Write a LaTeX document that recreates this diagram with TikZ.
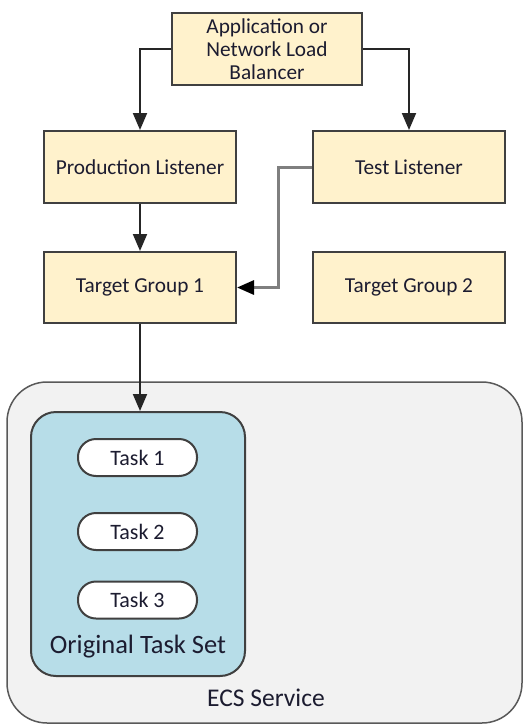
\documentclass[tikz,border=0pt]{standalone}
\usepackage{fontspec}
\setmainfont{Carlito}
\usetikzlibrary{arrows.meta}
\definecolor{boxfill}{HTML}{FFF2CC}
\definecolor{boxline}{HTML}{404040}
\definecolor{ecsfill}{HTML}{F2F2F2}
\definecolor{ecsline}{HTML}{595959}
\definecolor{otsfill}{HTML}{B7DDE8}
\definecolor{txt}{HTML}{1C1C30}
\definecolor{conngray}{HTML}{7F7F7F}
\begin{document}
\begin{tikzpicture}[x=1pt,y=-1pt,
  ybox/.style={draw=boxline,line width=2pt,fill=boxfill,rectangle,inner sep=0pt,
    minimum width=192pt,minimum height=72pt,align=center,text=txt,
    font=\fontsize{21.3}{23}\selectfont},
  pill/.style={draw=boxline,line width=2pt,fill=white,rectangle,rounded corners=18pt,
    inner sep=0pt,minimum width=119pt,minimum height=37pt,text=txt,
    font=\fontsize{22}{24}\selectfont},
  arr/.style={draw=black!85,line width=2pt,-{Triangle[length=17pt,width=14pt]}},
  garr/.style={draw=conngray,line width=3pt,-{Triangle[length=17pt,width=14pt,color=black]}},
  lbl/.style={text=txt,inner sep=0pt,font=\fontsize{25.5}{28}\selectfont}
]
\useasboundingbox (0,0) rectangle (532,725);
% ECS service container
\node[draw=ecsline,line width=1.5pt,fill=ecsfill,rectangle,rounded corners=40pt,
  minimum width=515pt,minimum height=341pt,inner sep=0pt] (ecs) at (264.5,552.5) {};
\node[lbl] (ecslbl) at (266,698) {ECS Service};
% Original task set
\node[draw=boxline,line width=2pt,fill=otsfill,rectangle,rounded corners=25pt,
  minimum width=214pt,minimum height=264pt,inner sep=0pt] (ots) at (138,544) {};
\node[lbl,font=\fontsize{26.5}{28}\selectfont] (otslbl) at (138,647) {Original Task Set};
\node[pill] (t1) at (137.5,457.5) {Task 1};
\node[pill] (t2) at (137.5,531.5) {Task 2};
\node[pill] (t3) at (137.5,600) {Task 3};
% top boxes
\node[ybox,minimum width=190pt] (alb) at (267,49) {Application or\\Network Load\\Balancer};
\node[ybox] (pl) at (140,167) {Production Listener};
\node[ybox] (tl) at (409,167) {Test Listener};
\node[ybox,minimum height=71pt] (tg1) at (140,287.5) {Target Group 1};
\node[ybox,minimum height=71pt] (tg2) at (409,287.5) {Target Group 2};
% connectors
\draw[arr] (alb.west) -| (pl.north);
\draw[arr] (alb.east) -| (tl.north);
\draw[arr] (pl.south) -- (tg1.north);
\coordinate (bend) at (278,167);
\draw[garr] (tl.west) -- (bend) |- (tg1.east);
\draw[arr] (tg1.south) -- (tg1.south |- ots.north);
\end{tikzpicture}
\end{document}
